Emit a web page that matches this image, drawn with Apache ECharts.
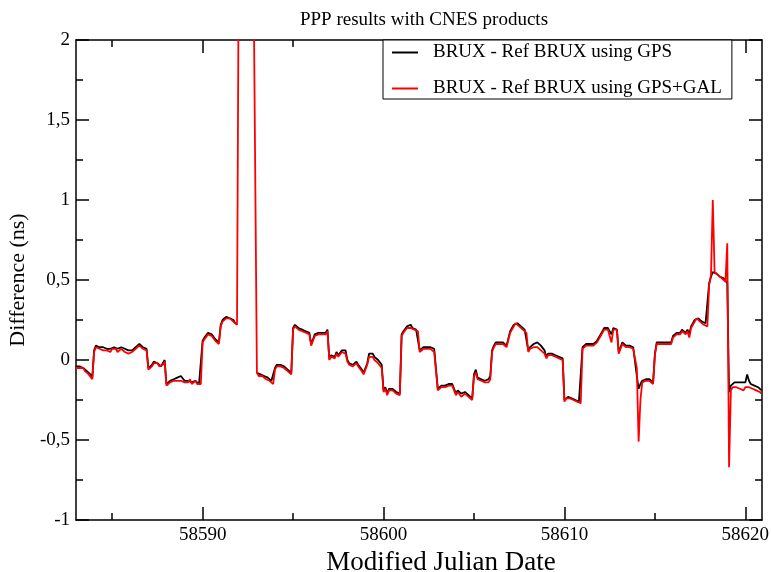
<!DOCTYPE html>
<html>
<head>
<meta charset="utf-8">
<script src="https://cdn.jsdelivr.net/npm/echarts@6/dist/echarts.min.js"></script>
<style>
html,body{margin:0;padding:0;background:#fff;}
#chart{width:771px;height:572px;}
</style>
</head>
<body>
<div id="chart"></div>
<script>
// Day starts (MJD) and intra-day sample offsets (days)
const days = [58583,58584,58585,58586,58587,58588,58589,58590,58591,58592,
  58593,58594,58595,58596,58597,58598,58599,58600,58601,58602,
  58603,58604,58605,58606,58607,58608,58609,58610,58611,58612,
  58613,58614,58615,58616,58617,58618,58619,58620];
const offsets = [0,0.1,0.2,0.3,0.4,0.5,0.6,0.7,0.8,0.9];

// BRUX - Ref BRUX using GPS (ns), one row per day
const gps = [
  [-0.04,-0.03,-0.04,-0.05,-0.05,-0.06,-0.07,-0.08,-0.09,-0.11],
  [0.06,0.09,0.10,0.08,0.09,0.08,0.08,0.07,0.08,0.07],
  [0.08,0.08,0.09,0.07,0.08,0.08,0.07,0.07,0.08,0.06],
  [0.05,0.06,0.05,0.08,0.09,0.10,0.09,0.08,0.09,0.07],
  [-0.05,-0.04,-0.03,-0.01,-0.02,-0.02,-0.03,-0.04,-0.02,0.00],
  [-0.15,-0.14,-0.13,-0.12,-0.12,-0.11,-0.11,-0.11,-0.10,-0.11],
  [-0.13,-0.12,-0.13,-0.12,-0.14,-0.13,-0.13,-0.14,-0.15,-0.15],
  [0.12,0.14,0.15,0.17,0.18,0.16,0.15,0.13,0.12,0.11],
  [0.22,0.25,0.26,0.27,0.27,0.26,0.26,0.25,0.23,0.23],
  [null,null,null,null,null,null,null,null,null,null],
  [-0.08,-0.09,-0.09,-0.10,-0.10,-0.11,-0.11,-0.12,-0.13,-0.14],
  [-0.05,-0.03,-0.02,-0.03,-0.04,-0.04,-0.05,-0.06,-0.07,-0.08],
  [0.20,0.22,0.21,0.20,0.21,0.19,0.20,0.18,0.19,0.17],
  [0.10,0.13,0.16,0.15,0.17,0.16,0.17,0.16,0.17,0.19],
  [0.01,0.03,0.04,0.02,0.05,0.03,0.04,0.06,0.07,0.06],
  [0.00,-0.02,-0.01,-0.03,-0.02,-0.01,-0.03,-0.04,-0.06,-0.08],
  [-0.07,-0.02,0.04,0.05,0.04,0.02,0.01,0.00,-0.01,-0.03],
  [-0.19,-0.17,-0.21,-0.18,-0.19,-0.18,-0.19,-0.20,-0.20,-0.21],
  [0.16,0.18,0.19,0.21,0.21,0.22,0.20,0.20,0.19,0.19],
  [0.06,0.07,0.08,0.07,0.08,0.08,0.08,0.07,0.07,0.06],
  [-0.18,-0.17,-0.16,-0.15,-0.16,-0.15,-0.15,-0.14,-0.15,-0.15],
  [-0.21,-0.19,-0.19,-0.21,-0.20,-0.20,-0.21,-0.22,-0.23,-0.24],
  [-0.09,-0.06,-0.11,-0.10,-0.12,-0.11,-0.13,-0.12,-0.12,-0.10],
  [0.06,0.09,0.11,0.12,0.11,0.12,0.11,0.10,0.09,0.08],
  [0.18,0.20,0.22,0.23,0.23,0.22,0.21,0.20,0.19,0.18],
  [0.06,0.08,0.08,0.10,0.09,0.11,0.10,0.09,0.08,0.06],
  [0.02,0.04,0.05,0.04,0.04,0.03,0.03,0.02,0.02,0.01],
  [-0.25,-0.24,-0.23,-0.23,-0.24,-0.24,-0.25,-0.25,-0.26,-0.26],
  [0.08,0.09,0.10,0.09,0.10,0.09,0.10,0.11,0.12,0.13],
  [0.16,0.18,0.20,0.21,0.20,0.19,0.16,0.20,0.19,0.19],
  [0.05,0.08,0.11,0.10,0.09,0.09,0.09,0.08,0.08,0.07],
  [-0.10,-0.18,-0.15,-0.13,-0.14,-0.12,-0.13,-0.12,-0.13,-0.14],
  [0.04,0.11,0.12,0.11,0.12,0.11,0.12,0.11,0.12,0.11],
  [0.15,0.16,0.17,0.18,0.17,0.19,0.18,0.17,0.19,0.16],
  [0.21,0.23,0.25,0.26,0.26,0.25,0.24,0.23,0.23,0.22],
  [0.48,0.52,0.55,0.55,0.54,0.53,0.52,0.52,0.51,0.50],
  [0.48,-0.20,-0.16,-0.15,-0.14,-0.15,-0.14,-0.15,-0.14,-0.15],
  [-0.14,-0.09,-0.13,-0.15,-0.15,-0.16,-0.17,-0.17,-0.18,-0.19]
];

// BRUX - Ref BRUX using GPS+GAL (ns), one row per day
const gpsGal = [
  [-0.05,-0.04,-0.05,-0.06,-0.05,-0.07,-0.08,-0.09,-0.10,-0.12],
  [0.05,0.08,0.09,0.07,0.08,0.06,0.07,0.06,0.07,0.05],
  [0.07,0.06,0.07,0.05,0.06,0.07,0.06,0.05,0.06,0.04],
  [0.04,0.05,0.04,0.07,0.08,0.09,0.08,0.07,0.08,0.06],
  [-0.06,-0.05,-0.04,-0.02,-0.03,-0.02,-0.04,-0.05,-0.03,-0.01],
  [-0.16,-0.15,-0.14,-0.14,-0.13,-0.14,-0.13,-0.12,-0.13,-0.12],
  [-0.14,-0.13,-0.14,-0.12,-0.15,-0.14,-0.13,-0.15,-0.16,-0.15],
  [0.11,0.13,0.14,0.16,0.17,0.15,0.14,0.12,0.11,0.10],
  [0.21,0.24,0.25,0.26,0.27,0.26,0.25,0.24,0.23,0.22],
  [2.6,2.6,2.6,2.6,2.6,2.6,2.6,2.6,2.6,2.6],
  [-0.08,-0.10,-0.09,-0.10,-0.11,-0.12,-0.11,-0.13,-0.14,-0.15],
  [-0.06,-0.04,-0.03,-0.04,-0.05,-0.05,-0.06,-0.07,-0.08,-0.09],
  [0.19,0.21,0.20,0.19,0.20,0.18,0.19,0.17,0.18,0.16],
  [0.09,0.12,0.15,0.14,0.16,0.15,0.16,0.15,0.16,0.18],
  [0.00,0.02,0.03,0.01,0.04,0.02,0.03,0.05,0.06,0.04],
  [-0.01,-0.03,-0.02,-0.04,-0.03,-0.02,-0.04,-0.05,-0.07,-0.09],
  [-0.08,-0.03,0.02,0.03,0.02,0.00,-0.01,-0.02,-0.03,-0.05],
  [-0.20,-0.18,-0.22,-0.19,-0.20,-0.19,-0.20,-0.21,-0.21,-0.22],
  [0.15,0.17,0.18,0.20,0.19,0.20,0.19,0.19,0.18,0.18],
  [0.05,0.06,0.07,0.06,0.07,0.06,0.07,0.06,0.05,0.05],
  [-0.19,-0.18,-0.17,-0.16,-0.17,-0.16,-0.16,-0.15,-0.16,-0.16],
  [-0.22,-0.20,-0.21,-0.23,-0.22,-0.21,-0.22,-0.23,-0.24,-0.25],
  [-0.10,-0.08,-0.12,-0.11,-0.13,-0.12,-0.14,-0.13,-0.14,-0.12],
  [0.05,0.08,0.10,0.11,0.10,0.11,0.10,0.09,0.08,0.07],
  [0.17,0.19,0.21,0.23,0.22,0.21,0.20,0.19,0.18,0.17],
  [0.05,0.07,0.06,0.08,0.07,0.08,0.07,0.06,0.05,0.04],
  [0.01,0.03,0.04,0.03,0.03,0.02,0.02,0.01,0.01,0.00],
  [-0.26,-0.24,-0.23,-0.24,-0.25,-0.25,-0.26,-0.26,-0.27,-0.27],
  [0.07,0.08,0.09,0.08,0.09,0.08,0.09,0.10,0.11,0.12],
  [0.15,0.17,0.19,0.20,0.19,0.18,0.11,0.19,0.18,0.19],
  [0.04,0.07,0.10,0.09,0.08,0.07,0.08,0.07,0.07,0.06],
  [-0.05,-0.51,-0.25,-0.14,-0.15,-0.13,-0.14,-0.13,-0.14,-0.15],
  [0.03,0.10,0.11,0.10,0.11,0.10,0.11,0.10,0.11,0.10],
  [0.14,0.15,0.16,0.17,0.16,0.18,0.17,0.16,0.18,0.14],
  [0.20,0.22,0.24,0.26,0.25,0.24,0.23,0.22,0.22,0.21],
  [0.47,0.53,1.00,0.55,0.54,0.53,0.52,0.51,0.50,0.49],
  [0.73,-0.67,-0.19,-0.17,-0.18,-0.17,-0.18,-0.18,-0.17,-0.19],
  [-0.17,-0.18,-0.17,-0.18,-0.18,-0.19,-0.19,-0.20,-0.20,-0.21]
];

const xMajorTicks = [58590, 58600, 58610, 58620];
const xMinorTicks = [58585, 58595, 58605, 58615];
const seriesNames = ['BRUX - Ref BRUX using GPS', 'BRUX - Ref BRUX using GPS+GAL'];

function pairs(rows) {
  const out = [];
  days.forEach((d, i) => {
    offsets.forEach((o, j) => {
      out.push([+(d + o).toFixed(2), rows[i][j]]);
    });
  });
  return out;
}

const FONT = '"Liberation Serif", "DejaVu Serif", serif';
const AX = { color: '#000', width: 1.5 };
const xMin = 58583, xMax = 58620.92;

function xAxisDef(pos, ticks, len, showLine, labels) {
  return {
    type: 'value', position: pos, min: xMin, max: xMax,
    axisLine: { show: showLine, onZero: false, lineStyle: AX },
    axisTick: { show: true, inside: true, length: len, customValues: ticks, lineStyle: AX },
    axisLabel: labels ? { show: true, customValues: ticks, color: '#000', fontFamily: FONT, fontSize: 19, margin: 6,
      formatter: v => String(v) } : { show: false },
    splitLine: { show: false }
  };
}

const chart = echarts.init(document.getElementById('chart'), null, { renderer: 'canvas' });
const xBottom = xAxisDef('bottom', xMajorTicks, 13, true, true);
xBottom.name = 'Modified Julian Date';
xBottom.nameLocation = 'middle';
xBottom.nameGap = 21;
xBottom.nameTextStyle = { color: '#000', fontFamily: FONT, fontSize: 27, padding: [0, 0, 0, 44] };

chart.setOption({
  animation: false,
  backgroundColor: '#fff',
  title: {
    text: 'PPP results with CNES products',
    left: 419, top: 6, textAlign: 'center',
    textStyle: { color: '#000', fontFamily: FONT, fontSize: 19, fontWeight: 'normal' }
  },
  legend: {
    data: seriesNames,
    orient: 'vertical',
    left: 383, top: 40,
    backgroundColor: '#fff',
    borderColor: '#000', borderWidth: 1,
    padding: [3, 10, 1, 9],
    itemWidth: 26, itemHeight: 2, itemGap: 17,
    icon: 'rect',
    textStyle: { color: '#000', fontFamily: FONT, fontSize: 19, padding: [0, 0, 0, 10] }
  },
  grid: { left: 76, right: 9, top: 40, bottom: 52, containLabel: false, outerBoundsMode: 'none' },
  xAxis: [
    xBottom,
    xAxisDef('bottom', xMinorTicks, 7, false, false),
    xAxisDef('top', xMajorTicks, 13, true, false),
    xAxisDef('top', xMinorTicks, 7, false, false)
  ],
  yAxis: [
    {
      type: 'value', position: 'left', min: -1, max: 2, interval: 0.5,
      axisLine: { show: true, onZero: false, lineStyle: AX },
      axisTick: { show: true, inside: true, length: 13, lineStyle: AX },
      minorTick: { show: true, splitNumber: 2, length: 7, lineStyle: AX },
      axisLabel: { color: '#000', fontFamily: FONT, fontSize: 19, margin: 6,
        formatter: v => String(v).replace('.', ',') },
      splitLine: { show: false }, minorSplitLine: { show: false },
      name: 'Difference (ns)', nameLocation: 'middle', nameGap: 38,
      nameTextStyle: { color: '#000', fontFamily: FONT, fontSize: 22 }
    },
    {
      type: 'value', position: 'right', min: -1, max: 2, interval: 0.5,
      axisLine: { show: true, onZero: false, lineStyle: AX },
      axisTick: { show: true, inside: true, length: 13, lineStyle: AX },
      minorTick: { show: true, splitNumber: 2, length: 7, lineStyle: AX },
      axisLabel: { show: false },
      splitLine: { show: false }, minorSplitLine: { show: false }
    }
  ],
  series: [
    {
      name: seriesNames[0], type: 'line', xAxisIndex: 0, yAxisIndex: 0,
      data: pairs(gps), showSymbol: false, symbol: 'none', connectNulls: false,
      color: '#000', lineStyle: { color: '#000', width: 1.8 }, z: 2
    },
    {
      name: seriesNames[1], type: 'line', xAxisIndex: 0, yAxisIndex: 0,
      data: pairs(gpsGal), showSymbol: false, symbol: 'none',
      color: '#ff0000', lineStyle: { color: '#ff0000', width: 1.8 }, z: 3
    }
  ]
});
</script>
</body>
</html>
